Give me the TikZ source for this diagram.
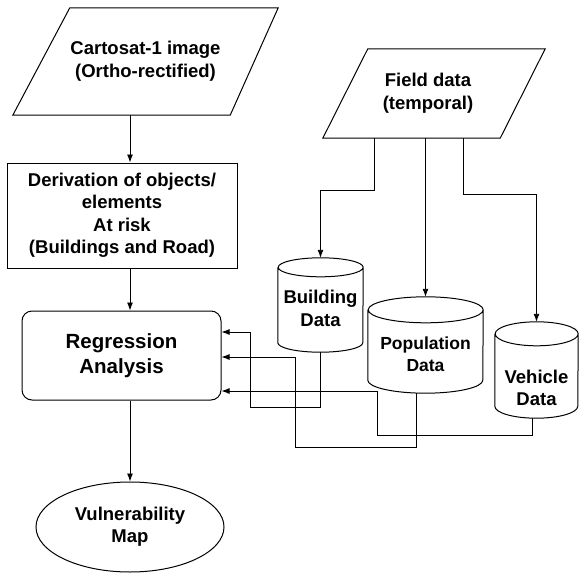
\documentclass[tikz,border=0pt]{standalone}
\usepackage{fontspec}
\setmainfont{Liberation Sans}
\usepackage{tikz}
\usetikzlibrary{shapes,arrows,arrows.meta,positioning}
\tikzstyle{inout} = [rectangle, draw=none, text centered, align=center, font=\bfseries\fontsize{18.5}{23}\selectfont]
\tikzstyle{proc} = [rectangle, draw, line width=1pt, align=center, font=\bfseries\fontsize{18.5}{22.5}\selectfont]
\tikzstyle{regbox} = [rectangle, rounded corners=10pt, draw, line width=1pt, align=center, font=\bfseries\fontsize{20.5}{25}\selectfont]
\tikzstyle{outp} = [ellipse, draw, line width=1pt, align=center, font=\bfseries\fontsize{18.5}{22}\selectfont]
\tikzstyle{db} = [rectangle, draw=none, inner sep=0pt]
\tikzstyle{dbline} = [draw, line width=1pt]
\tikzstyle{dbtext} = [draw=none, fill=none, align=center, font=\bfseries\fontsize{18.5}{22.5}\selectfont]
\tikzstyle{tedge}  = [draw, line width=0.9pt, >={Latex[length=8pt,width=6pt]}, ->]

\begin{document}
\begin{tikzpicture}[x=1pt, y=-1pt]
\useasboundingbox (0,0) rectangle (579,573);

% inputs =============================
\node[inout, minimum width=265pt, minimum height=107pt] (image) at (145.5,61.5) {Cartosat-1 image\\(Ortho-rectified)};
\node[inout, minimum width=222pt, minimum height=89pt] (field) at (428,93.5) {Field data\\(temporal)};
\draw[dbline] ([xshift=57pt]image.north west) -- (image.north east) -- ([xshift=-48pt]image.south east) -- (image.south west) -- cycle;
\draw[dbline] ([xshift=51pt]field.north west) -- ([xshift=6pt]field.north east) -- ([xshift=-39pt]field.south east) -- ([xshift=6pt]field.south west) -- cycle;

% main chain
\node[proc, minimum width=230pt, minimum height=105pt] (deriv) at (122,215.5) {Derivation of objects/\\elements\\At risk\\(Buildings and Road)};
\node[regbox, minimum width=199pt, minimum height=89pt] (regr) at (121.5,355.5) {Regression\\Analysis};
\node[outp, minimum width=188pt, minimum height=90pt] (vmap) at (130,527) {Vulnerability\\Map};

% databases
\node[db, minimum width=85pt, minimum height=94pt] (bld) at (320.5,305) {};
\node[db, minimum width=115pt, minimum height=96pt] (pop) at (425.5,345) {};
\node[db, minimum width=83pt, minimum height=96pt] (veh) at (536.5,370) {};
\foreach \n/\rx/\ry in {bld/42.5/9.5, pop/57.5/13, veh/41.5/12}
  \draw[dbline] ([yshift=-\ry pt]\n.north west) -- ([yshift=\ry pt]\n.south west)
    arc[start angle=180, end angle=360, x radius=\rx pt, y radius=\ry pt]
    -- ([yshift=-\ry pt]\n.north east)
    arc[start angle=0, end angle=180, x radius=\rx pt, y radius=\ry pt]
    arc[start angle=180, end angle=360, x radius=\rx pt, y radius=\ry pt];
\node[dbtext] (bldtxt) at (320.5,308.5) {Building\\Data};
\node[dbtext, font=\bfseries\fontsize{17.5}{22}\selectfont] (poptxt) at (425.5,354) {Population\\Data};
\node[dbtext] (vehtxt) at (536.5,388) {Vehicle\\Data};

% edges
\path[tedge] (vmap.north |- image.south) -- (vmap.north |- deriv.north);
\path[tedge] (vmap.north |- deriv.south) -- (vmap.north |- regr.north);
\path[tedge] (vmap.north |- regr.south) -- (vmap.north);

\path[tedge] ([xshift=-54pt]field.south) -- ++(0,52) -| (bld.north);
\path[tedge] (field.south -| pop.north) -- (pop.north);
\path[tedge] ([xshift=35pt]field.south) -- ++(0,56) -| (veh.north);

\path[tedge] (bld.south) |- (250,407) |- ([yshift=23.5pt]regr.east);
\path[tedge] ([xshift=-9pt]pop.south) |- (295,447) |- ([yshift=-1.5pt]regr.east);
\path[tedge] ([xshift=-4pt]veh.south) |- (377,435) |- ([yshift=-35.5pt]regr.east);

\end{tikzpicture}
\end{document}
